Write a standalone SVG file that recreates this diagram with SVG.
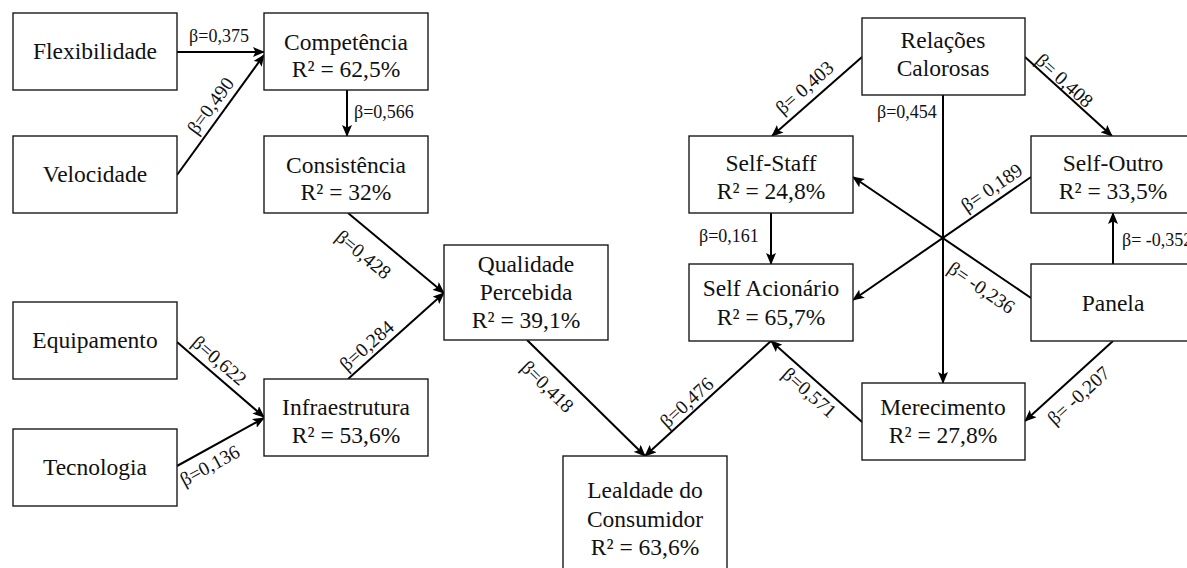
<svg xmlns="http://www.w3.org/2000/svg" width="1187" height="568" viewBox="0 0 1187 568">
  <style>
    .box { fill: #ffffff; stroke: #1a1a1a; stroke-width: 1.4; }
    .nt { font-family: "Liberation Serif", "Times New Roman", serif; font-size: 23.5px; text-anchor: middle; fill: #111; }
    .lb { font-family: "Liberation Serif", "Times New Roman", serif; font-size: 18px; fill: #111; }
    .lr { font-family: "Liberation Serif", "Times New Roman", serif; font-size: 19.5px; fill: #111; text-anchor: middle; }
    .lc { text-anchor: middle; }
    .edge { stroke: #000; stroke-width: 2; fill: none; marker-end: url(#ah); }
  </style>
  <defs>
    <marker id="ah" viewBox="0 0 12 10" refX="11" refY="5" markerWidth="12" markerHeight="10" markerUnits="userSpaceOnUse" orient="auto">
      <path d="M0,0 L12,5 L0,10 L2.5,5 z" fill="#000"/>
    </marker>
  </defs>

  <rect width="1187" height="568" fill="#ffffff"/>

  <!-- connectors -->
  <g id="connectors">
    <line class="edge" x1="177" y1="52" x2="264" y2="52"/>
    <line class="edge" x1="177" y1="175" x2="264" y2="55"/>
    <line class="edge" x1="347" y1="90" x2="347" y2="136"/>
    <line class="edge" x1="348" y1="213" x2="444" y2="293"/>
    <line class="edge" x1="348" y1="379" x2="444" y2="293"/>
    <line class="edge" x1="177" y1="342" x2="264" y2="417"/>
    <line class="edge" x1="177" y1="466" x2="264" y2="418"/>
    <line class="edge" x1="527" y1="340" x2="645" y2="456"/>
    <line class="edge" x1="771" y1="341" x2="645" y2="456"/>
    <line class="edge" x1="862" y1="57" x2="772" y2="136"/>
    <line class="edge" x1="1025" y1="57" x2="1112" y2="136"/>
    <line class="edge" x1="943" y1="95" x2="943" y2="383"/>
    <line class="edge" x1="771" y1="213" x2="771" y2="264"/>
    <line class="edge" x1="1031" y1="298" x2="853" y2="177"/>
    <line class="edge" x1="1031" y1="177" x2="853" y2="300"/>
    <line class="edge" x1="1113" y1="264" x2="1113" y2="213"/>
    <line class="edge" x1="862" y1="422" x2="771" y2="341"/>
    <line class="edge" x1="1113" y1="341" x2="1025" y2="421"/>

    <!-- path coefficients -->
    <text class="lb lc" x="219" y="42">β=0,375</text>
    <text class="lb" x="354" y="118">β=0,566</text>
    <text class="lb" x="877" y="118">β=0,454</text>
    <text class="lb" x="699" y="242">β=0,161</text>
    <text class="lb" x="1122" y="246">β= -0,352</text>

    <text class="lr" transform="translate(211,106) rotate(-53.7)" y="6">β=0,490</text>
    <text class="lr" transform="translate(363,255) rotate(39.5)" y="6">β=0,428</text>
    <text class="lr" transform="translate(367,346) rotate(-41.6)" y="6">β=0,284</text>
    <text class="lr" transform="translate(219,361) rotate(40.4)" y="6">β=0,622</text>
    <text class="lr" transform="translate(210,466) rotate(-28.6)" y="6">β=0,136</text>
    <text class="lr" transform="translate(547,387) rotate(44.3)" y="6">β=0,418</text>
    <text class="lr" transform="translate(687,403) rotate(-42.4)" y="6">β=0,476</text>
    <text class="lr" transform="translate(809,393) rotate(41.7)" y="6">β=0,571</text>
    <text class="lr" transform="translate(1079,396) rotate(-42.3)" y="6">β= -0,207</text>
    <text class="lr" transform="translate(981,288) rotate(34.5)" y="6">β= -0,236</text>
    <text class="lr" transform="translate(992,188) rotate(-34.6)" y="6">β= 0,189</text>
    <text class="lr" transform="translate(805,88) rotate(-41.3)" y="6">β= 0,403</text>
    <text class="lr" transform="translate(1064,81) rotate(42.2)" y="6">β= 0,408</text>
  </g>

  <!-- nodes -->
  <g id="flexibilidade">
    <rect class="box" x="13" y="13" width="164" height="77"/>
    <text class="nt" x="95" y="59">Flexibilidade</text>
  </g>
  <g id="velocidade">
    <rect class="box" x="13" y="136" width="164" height="77"/>
    <text class="nt" x="95" y="182">Velocidade</text>
  </g>
  <g id="competencia">
    <rect class="box" x="264" y="13" width="164" height="77"/>
    <text class="nt" x="346" y="50">Competência</text>
    <text class="nt" x="346" y="77">R² = 62,5%</text>
  </g>
  <g id="consistencia">
    <rect class="box" x="264" y="136" width="164" height="77"/>
    <text class="nt" x="346" y="173">Consistência</text>
    <text class="nt" x="346" y="200">R² = 32%</text>
  </g>
  <g id="equipamento">
    <rect class="box" x="13" y="302" width="164" height="77"/>
    <text class="nt" x="95" y="348">Equipamento</text>
  </g>
  <g id="tecnologia">
    <rect class="box" x="13" y="429" width="164" height="77"/>
    <text class="nt" x="95" y="475">Tecnologia</text>
  </g>
  <g id="infraestrutura">
    <rect class="box" x="264" y="379" width="164" height="77"/>
    <text class="nt" x="346" y="415">Infraestrutura</text>
    <text class="nt" x="346" y="443">R² = 53,6%</text>
  </g>
  <g id="qualidade">
    <rect class="box" x="444" y="245" width="164" height="95"/>
    <text class="nt" x="526" y="272">Qualidade</text>
    <text class="nt" x="526" y="300">Percebida</text>
    <text class="nt" x="526" y="328">R² = 39,1%</text>
  </g>
  <g id="lealdade">
    <rect class="box" x="563" y="456" width="164" height="124"/>
    <text class="nt" x="645" y="498">Lealdade do</text>
    <text class="nt" x="645" y="527">Consumidor</text>
    <text class="nt" x="645" y="555">R² = 63,6%</text>
  </g>
  <g id="relacoes">
    <rect class="box" x="862" y="18" width="163" height="77"/>
    <text class="nt" x="943" y="48">Relações</text>
    <text class="nt" x="943" y="76">Calorosas</text>
  </g>
  <g id="self-staff">
    <rect class="box" x="689" y="136" width="164" height="77"/>
    <text class="nt" x="771" y="171">Self-Staff</text>
    <text class="nt" x="771" y="199">R² = 24,8%</text>
  </g>
  <g id="self-outro">
    <rect class="box" x="1031" y="136" width="164" height="77"/>
    <text class="nt" x="1113" y="171">Self-Outro</text>
    <text class="nt" x="1113" y="199">R² = 33,5%</text>
  </g>
  <g id="self-acionario">
    <rect class="box" x="689" y="264" width="164" height="77"/>
    <text class="nt" x="771" y="296">Self Acionário</text>
    <text class="nt" x="771" y="325">R² = 65,7%</text>
  </g>
  <g id="panela">
    <rect class="box" x="1031" y="264" width="164" height="77"/>
    <text class="nt" x="1113" y="311">Panela</text>
  </g>
  <g id="merecimento">
    <rect class="box" x="862" y="383" width="163" height="77"/>
    <text class="nt" x="943" y="415">Merecimento</text>
    <text class="nt" x="943" y="443">R² = 27,8%</text>
  </g>
</svg>
